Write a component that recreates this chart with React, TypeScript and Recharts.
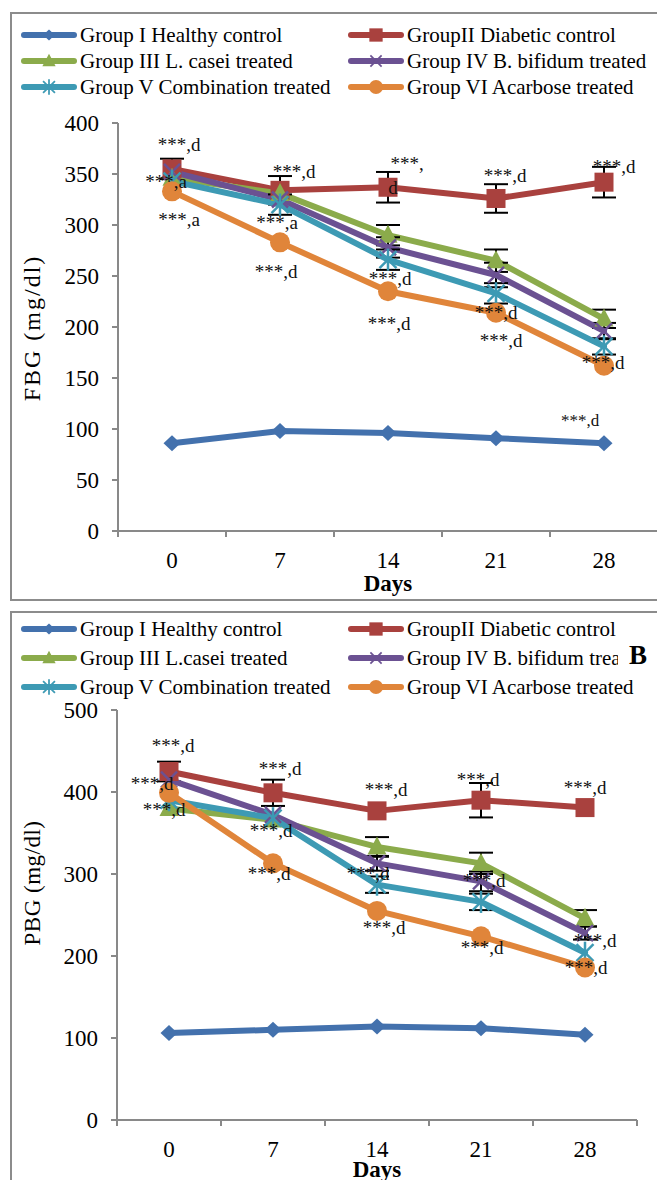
import React from "react";
import { ErrorBar, Line, LineChart, ReferenceDot, XAxis, YAxis } from "recharts";

const FONT = '"Liberation Serif", "Times New Roman", serif';
const AXIS = "#898989";
const FRAME = "#8c8c8c";

const DAYS = [0, 7, 14, 21, 28];
const DAY_EDGES = [-3.5, 3.5, 10.5, 17.5, 24.5, 31.5];
const FBG_TICKS = [0, 50, 100, 150, 200, 250, 300, 350, 400];
const PBG_TICKS = [0, 100, 200, 300, 400, 500];

const FBG_NAMES = [
  "Group I Healthy control",
  "GroupII Diabetic control",
  "Group III L. casei treated",
  "Group IV B. bifidum treated",
  "Group V Combination treated",
  "Group VI Acarbose treated",
];
const PBG_NAMES = [
  "Group I Healthy control",
  "GroupII Diabetic control",
  "Group III L.casei treated",
  "Group IV B. bifidum treated",
  "Group V Combination treated",
  "Group VI Acarbose treated",
];

const COLORS = ["#4371ad", "#a9413e", "#8bab4b", "#6b5192", "#3d9ab4", "#e0853a"];
const SHAPES = ["diamond", "square", "triangle", "cross", "star", "circle"];

// FBG (mg/dl), days 0..28
const FBG_I = [86, 98, 96, 91, 86];
const FBG_II = [355, 334, 337, 326, 342];
const FBG_III = [346, 331, 290, 265, 208];
const FBG_IV = [352, 325, 278, 251, 196];
const FBG_V = [343, 320, 266, 233, 181];
const FBG_VI = [333, 283, 235, 214, 162];
const FBG_SD_II = [10, 14, 15, 14, 15];
const FBG_SD_III = [0, 0, 10, 11, 9];
const FBG_SD_IV = [0, 0, 10, 12, 8];
const FBG_SD_V = [0, 10, 10, 10, 8];

// PBG (mg/dl), days 0..28
const PBG_I = [106, 110, 114, 112, 104];
const PBG_II = [425, 399, 377, 390, 381];
const PBG_III = [380, 366, 333, 313, 246];
const PBG_IV = [415, 372, 313, 291, 228];
const PBG_V = [390, 368, 287, 266, 204];
const PBG_VI = [399, 313, 255, 224, 186];
const PBG_SD_II = [12, 16, 0, 21, 0];
const PBG_SD_III = [0, 0, 12, 13, 10];
const PBG_SD_IV = [0, 0, 9, 12, 8];
const PBG_SD_V = [0, 0, 10, 10, 0];

// significance marks: group index, day, text
const FBG_NOTES = [
  { g: 1, day: 0, text: "***,d" },
  { g: 4, day: 0, text: "***,a" },
  { g: 5, day: 0, text: "***,a" },
  { g: 1, day: 7, text: "***,d" },
  { g: 4, day: 7, text: "***,a" },
  { g: 5, day: 7, text: "***,d" },
  { g: 1, day: 14, text: "***," },
  { g: 1, day: 14, text: "d" },
  { g: 4, day: 14, text: "***,d" },
  { g: 5, day: 14, text: "***,d" },
  { g: 1, day: 21, text: "***,d" },
  { g: 4, day: 21, text: "***,d" },
  { g: 5, day: 21, text: "***,d" },
  { g: 1, day: 28, text: "***,d" },
  { g: 5, day: 28, text: "***,d" },
  { g: 0, day: 28, text: "***,d" },
];
// label offsets from the marker: dx, dy, font size
const FBG_NOTE_SHIFT = [
  [7, -24, 19], [-6, 0, 19], [7, 28, 19], [14, -19, 19], [-3, 18, 19], [-4, 29, 19],
  [19, -24, 19], [5, 0, 19], [2, 19, 19], [1, 32, 19], [9, -23, 19], [0, 19, 19],
  [5, 28, 19], [10, -16, 19], [-1, -3, 19], [-24, -23, 17],
];

const PBG_NOTES = [
  { g: 1, day: 0, text: "***,d" },
  { g: 5, day: 0, text: "***,d" },
  { g: 2, day: 0, text: "***,d" },
  { g: 1, day: 7, text: "***,d" },
  { g: 4, day: 7, text: "***,d" },
  { g: 5, day: 7, text: "***,d" },
  { g: 1, day: 14, text: "***,d" },
  { g: 4, day: 14, text: "***,d" },
  { g: 5, day: 14, text: "***,d" },
  { g: 1, day: 21, text: "***,d" },
  { g: 3, day: 21, text: "***,d" },
  { g: 5, day: 21, text: "***,d" },
  { g: 1, day: 28, text: "***,d" },
  { g: 3, day: 28, text: "***,d" },
  { g: 5, day: 28, text: "***,d" },
];
const PBG_NOTE_SHIFT = [
  [4, -26, 19], [-17, -9, 19], [-5, 1, 19], [7, -24, 19], [-2, 12, 19], [-4, 10, 19],
  [9, -21, 19], [-9, -11, 19], [7, 17, 19], [-3, -21, 19], [3, -1, 19], [1, 11, 19],
  [0, -20, 19], [10, 7, 19], [1, 0, 19],
];

function buildRows(series: number[][], errors: (number[] | null)[]) {
  return DAYS.map((day, i) => {
    const row: Record<string, number | undefined> = { day };
    series.forEach((s, k) => {
      row[`g${k}`] = s[i];
      const e = errors[k];
      row[`e${k}`] = e && e[i] ? e[i] : undefined;
    });
    return row;
  });
}

function Marker({ shape, cx, cy, color, s = 1 }: any) {
  if (cx == null || cy == null) return null;
  switch (shape) {
    case "diamond": {
      const w = 8.5 * s;
      const h = 8 * s;
      return <polygon points={`${cx},${cy - h} ${cx + w},${cy} ${cx},${cy + h} ${cx - w},${cy}`} fill={color} />;
    }
    case "square": {
      const h = 9.5 * s;
      return <rect x={cx - h} y={cy - h} width={2 * h} height={2 * h} fill={color} />;
    }
    case "triangle": {
      const h = 9.5 * s;
      return <polygon points={`${cx},${cy - h * 1.1} ${cx + h},${cy + h * 0.8} ${cx - h},${cy + h * 0.8}`} fill={color} />;
    }
    case "cross": {
      const h = 8 * s;
      return (
        <g stroke={color} strokeWidth={2.5 * s}>
          <line x1={cx - h} y1={cy - h} x2={cx + h} y2={cy + h} />
          <line x1={cx - h} y1={cy + h} x2={cx + h} y2={cy - h} />
        </g>
      );
    }
    case "star": {
      const h = 8.5 * s;
      return (
        <g stroke={color} strokeWidth={2.5 * s}>
          <line x1={cx - h} y1={cy - h} x2={cx + h} y2={cy + h} />
          <line x1={cx - h} y1={cy + h} x2={cx + h} y2={cy - h} />
          <line x1={cx} y1={cy - h * 1.3} x2={cx} y2={cy + h * 1.3} />
        </g>
      );
    }
    default:
      return <circle cx={cx} cy={cy} r={10 * s} fill={color} />;
  }
}

function DayTick({ x, y, payload }: any) {
  const v = payload.value;
  if (DAYS.includes(v)) {
    return (
      <text x={x} y={y + 37} textAnchor="middle" fontFamily={FONT} fontSize={23} fill="#000">
        {v}
      </text>
    );
  }
  return <line x1={x} x2={x} y1={y} y2={y + 6} stroke={AXIS} strokeWidth={2} />;
}

function ValueTick({ x, y, payload }: any) {
  return (
    <text x={x} y={y} dy={7.5} textAnchor="end" fontFamily={FONT} fontSize={23} fill="#000">
      {payload.value}
    </text>
  );
}

function DaysTitle({ viewBox, baseline }: any) {
  if (!viewBox) return null;
  return (
    <text x={viewBox.x + viewBox.width / 2} y={viewBox.y + baseline} textAnchor="middle" fontFamily={FONT} fontSize={23} fontWeight="bold" fill="#000">
      Days
    </text>
  );
}

function ValueTitle({ viewBox, text, cx, shift, size, spacing }: any) {
  if (!viewBox) return null;
  const cy = viewBox.y + viewBox.height / 2 + shift;
  return (
    <text
      x={cx}
      y={cy}
      transform={`rotate(-90 ${cx} ${cy})`}
      textAnchor="middle"
      dominantBaseline="central"
      fontFamily={FONT}
      fontSize={size}
      letterSpacing={spacing}
      fill="#000"
    >
      {text}
    </text>
  );
}

function NoteText({ viewBox, text, dx, dy, size }: any) {
  if (!viewBox) return null;
  const cx = viewBox.x + (viewBox.width || 0) / 2;
  const cy = viewBox.y + (viewBox.height || 0) / 2;
  return (
    <text
      x={cx + dx}
      y={cy + dy}
      textAnchor="middle"
      dominantBaseline="central"
      fontFamily={FONT}
      fontSize={size}
      fill="#111"
    >
      {text}
    </text>
  );
}

function LegendRows({ names, top, rowGap, clipSecond }: any) {
  return (
    <>
      {names.map((name: string, k: number) => {
        const col = k % 2;
        const row = Math.floor(k / 2);
        const clip = clipSecond && k === 3;
        return (
          <div
            key={k}
            style={{
              position: "absolute",
              left: col === 0 ? 21 : 348,
              top: top + row * rowGap - 12,
              height: 24,
              display: "flex",
              alignItems: "center",
              whiteSpace: "nowrap",
            }}
          >
            <svg width={56} height={20} style={{ marginRight: 3, flex: "none" }}>
              <line x1={3} x2={53} y1={10} y2={10} stroke={COLORS[k]} strokeWidth={6} strokeLinecap="round" />
              <Marker shape={SHAPES[k]} cx={28} cy={10} color={COLORS[k]} s={0.7} />
            </svg>
            <span
              style={{
                fontFamily: FONT,
                fontSize: 21,
                color: "#000",
                display: "inline-block",
                width: clip ? 211 : undefined,
                overflow: clip ? "hidden" : undefined,
              }}
            >
              {name}
            </span>
          </div>
        );
      })}
    </>
  );
}

function GlucoseChart({
  top,
  width,
  height,
  margin,
  series,
  errors,
  ticks,
  yTitle,
  titleShift,
  titleSize,
  titleSpacing,
  daysBaseline,
  notes,
  shifts,
}: any) {
  const rows = buildRows(series, errors);
  const xTicks = [...DAY_EDGES, ...DAYS].sort((a, b) => a - b);
  const yMax = ticks[ticks.length - 1];
  return (
    <div style={{ position: "absolute", left: 0, top }}>
      <LineChart width={width} height={height} data={rows} margin={margin}>
        <XAxis
          dataKey="day"
          type="number"
          domain={[-3.5, 31.5]}
          ticks={xTicks}
          interval={0}
          tickSize={0}
          tickMargin={0}
          tickLine={false}
          axisLine={{ stroke: AXIS, strokeWidth: 2 }}
          tick={<DayTick />}
          height={62}
          label={<DaysTitle baseline={daysBaseline} />}
        />
        <YAxis
          type="number"
          domain={[0, yMax]}
          ticks={ticks}
          interval={0}
          width={60}
          tickSize={6}
          tickMargin={13}
          axisLine={{ stroke: AXIS, strokeWidth: 2 }}
          tickLine={{ stroke: AXIS, strokeWidth: 2 }}
          tick={<ValueTick />}
          label={<ValueTitle text={yTitle} cx={32} shift={titleShift} size={titleSize} spacing={titleSpacing} />}
        />
        {series.map((_: number[], k: number) => (
          <Line
            key={k}
            dataKey={`g${k}`}
            stroke={COLORS[k]}
            strokeWidth={6}
            strokeLinejoin="round"
            strokeLinecap="round"
            isAnimationActive={false}
            activeDot={false}
            dot={(p: any) => (
              <Marker key={`m${k}-${p.index}`} shape={SHAPES[k]} cx={p.cx} cy={p.cy} color={COLORS[k]} />
            )}
          >
            {errors[k] && (
              <ErrorBar dataKey={`e${k}`} width={12} stroke="#000" strokeWidth={2} direction="y" isAnimationActive={false} />
            )}
          </Line>
        ))}
      </LineChart>
      {/* same scales on top, so the significance marks sit above every line */}
      <div style={{ position: "absolute", left: 0, top: 0, pointerEvents: "none" }}>
        <LineChart
          width={width}
          height={height}
          data={rows}
          margin={{ ...margin, left: margin.left + 60, bottom: margin.bottom + 62 }}
        >
          <XAxis dataKey="day" type="number" domain={[-3.5, 31.5]} allowDataOverflow hide />
          <YAxis type="number" domain={[0, yMax]} allowDataOverflow hide />
          {series.map((_: number[], k: number) => (
            <Line
              key={k}
              dataKey={`g${k}`}
              stroke="none"
              strokeWidth={0}
              dot={false}
              activeDot={false}
              isAnimationActive={false}
            />
          ))}
          {notes.map((n: any, i: number) => (
            <ReferenceDot
              key={`n${i}`}
              x={n.day}
              y={series[n.g][DAYS.indexOf(n.day)]}
              r={1}
              fill="none"
              stroke="none"
              ifOverflow="visible"
              label={<NoteText text={n.text} dx={shifts[i][0]} dy={shifts[i][1]} size={shifts[i][2]} />}
            />
          ))}
        </LineChart>
      </div>
    </div>
  );
}

export default function App() {
  return (
    <div
      style={{
        position: "fixed",
        left: 0,
        top: 0,
        width: 657,
        height: 1180,
        overflow: "hidden",
        background: "#fff",
      }}
    >
      <div style={{ position: "absolute", left: 10, top: 12, width: 720, height: 585, border: `2px solid ${FRAME}` }} />
      <div style={{ position: "absolute", left: 10, top: 611, width: 720, height: 700, border: `2px solid ${FRAME}` }} />

      <GlucoseChart
        top={0}
        width={668}
        height={600}
        margin={{ top: 123, right: 10, bottom: 7, left: 58 }}
        series={[FBG_I, FBG_II, FBG_III, FBG_IV, FBG_V, FBG_VI]}
        errors={[null, FBG_SD_II, FBG_SD_III, FBG_SD_IV, FBG_SD_V, null]}
        ticks={FBG_TICKS}
        yTitle="FBG (mg/dl)"
        titleShift={1}
        titleSize={24}
        titleSpacing={2}
        daysBaseline={60}
        notes={FBG_NOTES}
        shifts={FBG_NOTE_SHIFT}
      />
      <GlucoseChart
        top={600}
        width={657}
        height={592}
        margin={{ top: 110, right: 20, bottom: 10, left: 57 }}
        series={[PBG_I, PBG_II, PBG_III, PBG_IV, PBG_V, PBG_VI]}
        errors={[null, PBG_SD_II, PBG_SD_III, PBG_SD_IV, PBG_SD_V, null]}
        ticks={PBG_TICKS}
        yTitle="PBG (mg/dl)"
        titleShift={-32}
        titleSize={23}
        titleSpacing={0.5}
        daysBaseline={57}
        notes={PBG_NOTES}
        shifts={PBG_NOTE_SHIFT}
      />

      <LegendRows names={FBG_NAMES} top={35} rowGap={26} />
      <LegendRows names={PBG_NAMES} top={629} rowGap={29} clipSecond />
      <div
        style={{
          position: "absolute",
          left: 629,
          top: 640,
          fontFamily: FONT,
          fontSize: 27,
          fontWeight: "bold",
          lineHeight: "30px",
          color: "#000",
        }}
      >
        B
      </div>
    </div>
  );
}
